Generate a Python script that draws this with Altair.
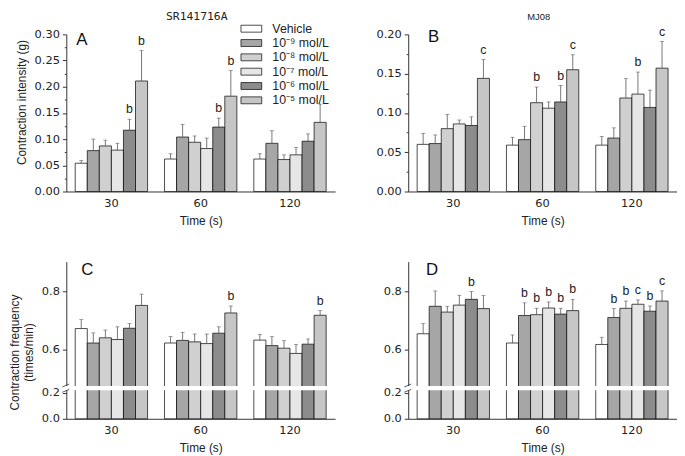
import altair as alt
import pandas as pd

times = ["30", "60", "120"]
concs = ["Vehicle", "10⁻⁹ mol/L", "10⁻⁸ mol/L", "10⁻⁷ mol/L", "10⁻⁶ mol/L", "10⁻⁵ mol/L"]
fills = ["#ffffff", "#a6a6a6", "#d0d0d0", "#e6e6e6", "#8c8c8c", "#c6c6c6"]

# Panel A: SR141716A, contraction intensity (g)
a_mean = [[0.054, 0.078, 0.087, 0.079, 0.117, 0.211],
          [0.062, 0.104, 0.094, 0.082, 0.123, 0.182],
          [0.062, 0.092, 0.061, 0.070, 0.096, 0.132]]
a_sem = [[0.005, 0.022, 0.011, 0.013, 0.021, 0.058],
         [0.010, 0.024, 0.012, 0.020, 0.017, 0.049],
         [0.010, 0.024, 0.009, 0.014, 0.014, 0.035]]
a_sig = [["", "", "", "", "b", "b"],
         ["", "", "", "", "b", "b"],
         ["", "", "", "", "", ""]]

# Panel B: MJ08, contraction intensity (g)
b_mean = [[0.060, 0.061, 0.080, 0.086, 0.084, 0.144],
          [0.059, 0.066, 0.113, 0.106, 0.114, 0.155],
          [0.059, 0.068, 0.119, 0.124, 0.107, 0.157]]
b_sem = [[0.014, 0.011, 0.018, 0.005, 0.011, 0.024],
         [0.010, 0.017, 0.020, 0.008, 0.021, 0.019],
         [0.011, 0.013, 0.025, 0.028, 0.022, 0.034]]
b_sig = [["", "", "", "", "", "c"],
         ["", "", "b", "", "b", "c"],
         ["", "", "", "b", "", "c"]]

# Panel C: SR141716A, contraction frequency (times/min)
c_mean = [[0.672, 0.622, 0.640, 0.634, 0.673, 0.752],
          [0.622, 0.631, 0.626, 0.620, 0.656, 0.726],
          [0.632, 0.613, 0.604, 0.586, 0.618, 0.718]]
c_sem = [[0.031, 0.035, 0.027, 0.044, 0.016, 0.039],
         [0.022, 0.028, 0.027, 0.033, 0.022, 0.024],
         [0.020, 0.031, 0.026, 0.031, 0.018, 0.016]]
c_sig = [["", "", "", "", "", ""],
         ["", "", "", "", "", "b"],
         ["", "", "", "", "", "b"]]

# Panel D: MJ08, contraction frequency (times/min)
d_mean = [[0.654, 0.749, 0.729, 0.753, 0.773, 0.741],
          [0.622, 0.717, 0.720, 0.743, 0.722, 0.734],
          [0.617, 0.710, 0.742, 0.756, 0.732, 0.767]]
d_sem = [[0.035, 0.053, 0.020, 0.034, 0.027, 0.045],
         [0.028, 0.044, 0.022, 0.021, 0.020, 0.039],
         [0.025, 0.031, 0.025, 0.015, 0.018, 0.035]]
d_sig = [["", "", "", "", "b", ""],
         ["", "b", "b", "b", "b", "b"],
         ["", "b", "b", "c", "b", "c"]]

FONT = "Liberation Sans"
TICKFONT = "DejaVu Sans"
W, H = 272, 159


def frame(mean, sem, sig):
    rows = []
    for i, t in enumerate(times):
        for j, c in enumerate(concs):
            rows.append({"time": t, "conc": c, "mean": mean[i][j],
                         "upper": mean[i][j] + sem[i][j], "sig": sig[i][j]})
    return pd.DataFrame(rows)


X = alt.X("time:N", sort=times, title="Time (s)",
          scale=alt.Scale(paddingInner=0.19, paddingOuter=0.1),
          axis=alt.Axis(ticks=False, labelAngle=0, labelPadding=6, titlePadding=7,
                        labelFont=TICKFONT, labelFontSize=11.5))
XO = alt.XOffset("conc:N", sort=concs, scale=alt.Scale(paddingInner=0, paddingOuter=0))

legendA = alt.Legend(title=None, orient="none", legendX=181, legendY=-12,
                     symbolType="M-3,-1H3V1H-3Z", symbolSize=49,
                     symbolStrokeColor="black", symbolStrokeWidth=0.7, symbolOpacity=1,
                     labelFont=FONT, labelFontSize=12.5, labelOffset=15,
                     rowPadding=1.5, labelColor="#222")


def panel(df, yfield, ufield, yscale, yaxis, title, letter, lx, ly, legend, calc=None, extra=()):
    base = alt.Chart(df)
    if calc:
        base = base.transform_calculate(**calc)
    color = alt.Color("conc:N", sort=concs, scale=alt.Scale(domain=concs, range=fills),
                      legend=legend)
    Y = alt.Y(f"{yfield}:Q", scale=yscale, axis=yaxis)
    YU = alt.Y(f"{ufield}:Q", scale=yscale, axis=yaxis)
    bars = base.mark_bar(stroke="black", strokeWidth=0.7).encode(x=X, xOffset=XO, y=Y, color=color)
    err = base.mark_rule(color="#555", strokeWidth=0.8).encode(
        x=X, xOffset=XO, y=Y, y2=alt.Y2(f"{ufield}:Q"))
    cap = base.mark_tick(color="#555", thickness=0.8, size=4, orient="horizontal").encode(
        x=X, xOffset=XO, y=YU)
    txt = base.mark_text(dy=-3, baseline="bottom", font=FONT, fontSize=12.5, color="#222").encode(
        x=X, xOffset=XO, y=YU, text="sig:N")
    let = alt.Chart(pd.DataFrame({"l": [letter]})).mark_text(
        font=FONT, fontSize=17, align="left", baseline="top", color="#111").encode(
        text="l:N", x=alt.value(lx), y=alt.value(ly))
    layers = [bars, err, cap, txt, *extra, let]
    if title is not None:
        text, tfont, tsize = title
        layers.append(alt.Chart(pd.DataFrame({"t": [text]})).mark_text(
            font=tfont, fontSize=tsize, align="center", baseline="middle", color="#222").encode(
            text="t:N", x=alt.value(W / 2 - 4), y=alt.value(-18)))
    return alt.layer(*layers).properties(width=W, height=H)


def yaxis_ab(top, title):
    vals = [round(i * 0.025, 3) for i in range(int(round(top / 0.025)) + 1)]
    kw = dict(values=vals,
              labelExpr="abs(datum.value*20 - round(datum.value*20)) < 1e-6 ? format(datum.value, '.2f') : ''",
              tickSize={"condition": {"test": "abs(datum.value*20 - round(datum.value*20)) > 1e-6", "value": 2}, "value": 4},
              labelPadding=3, labelFont=TICKFONT, labelFontSize=11.5)
    if title:
        kw["title"] = title
        kw["titlePadding"] = 6
        kw["titleY"] = H / 2 - 11
    else:
        kw["title"] = None
    return alt.Axis(**kw)


def yaxis_cd(title):
    kw = dict(values=[0, 13.5, 27, 42, 72, 102, 132, 162],
              labelExpr="datum.value == 0 ? '0.0' : datum.value == 27 ? '0.2' : datum.value == 72 ? '0.6' : datum.value == 132 ? '0.8' : ''",
              tickSize={"condition": {"test": "indexof([0, 27, 72, 132], datum.value) < 0", "value": 2}, "value": 4},
              labelPadding=3, labelFont=TICKFONT, labelFontSize=11.5)
    if title:
        kw["title"] = title
        kw["titlePadding"] = 6
        kw["titleY"] = H / 2 + 12
    else:
        kw["title"] = None
    return alt.Axis(**kw)


brk_calc = {
    "tm": "datum.mean < 0.3 ? datum.mean * 135 : 72 + (datum.mean - 0.6) * 300",
    "tu": "datum.upper < 0.3 ? datum.upper * 135 : 72 + (datum.upper - 0.6) * 300",
}
cd_scale = alt.Scale(domain=[0, 163], nice=False, zero=True)


def breaks():
    one = pd.DataFrame({"k": [0]})
    band = alt.Chart(one).mark_rect(color="white").encode(
        y=alt.datum(29.5), y2=alt.datum(34), x=alt.value(-6), x2=alt.value(W))
    s1 = alt.Chart(one).mark_rule(color="#333", strokeWidth=0.8).encode(
        x=alt.value(-4), x2=alt.value(3), y=alt.datum(27.5), y2=alt.datum(30.5))
    s2 = alt.Chart(one).mark_rule(color="#333", strokeWidth=0.8).encode(
        x=alt.value(-4), x2=alt.value(3), y=alt.datum(33), y2=alt.datum(36))
    return (band, s1, s2)


A = panel(frame(a_mean, a_sem, a_sig), "mean", "upper",
          alt.Scale(domain=[0, 0.30], nice=False), yaxis_ab(0.30, "Contraction intensity (g)"),
          ("SR141716A", "DejaVu Sans Mono", 11.5), "A", 10, -2, legendA)
B = panel(frame(b_mean, b_sem, b_sig), "mean", "upper",
          alt.Scale(domain=[0, 0.20], nice=False), yaxis_ab(0.20, None),
          ("MJ08", FONT, 9.5), "B", 20, -5, None)
C = panel(frame(c_mean, c_sem, c_sig), "tm", "tu", cd_scale,
          yaxis_cd(["Contraction frequency", "(times/min)"]),
          None, "C", 15, 1, None, calc=brk_calc, extra=breaks())
D = panel(frame(d_mean, d_sem, d_sig), "tm", "tu", cd_scale, yaxis_cd(None),
          None, "D", 18, 1, None, calc=brk_calc, extra=breaks())

chart = alt.concat(A, B, C, D, columns=2, spacing={"row": 71, "column": 74}, bounds="flush").resolve_legend(
    color="independent"
).properties(
    padding={"left": 0, "top": 0, "right": 0, "bottom": 0}
).configure_axis(
    labelFont=FONT, titleFont=FONT, labelFontSize=12, titleFontSize=12,
    labelColor="#222", titleColor="#222", domainColor="#333", tickColor="#333",
    grid=False, titleFontWeight="normal"
).configure_view(stroke=None)

chart.save("out.html", embed_options={"renderer": "svg", "actions": False})
